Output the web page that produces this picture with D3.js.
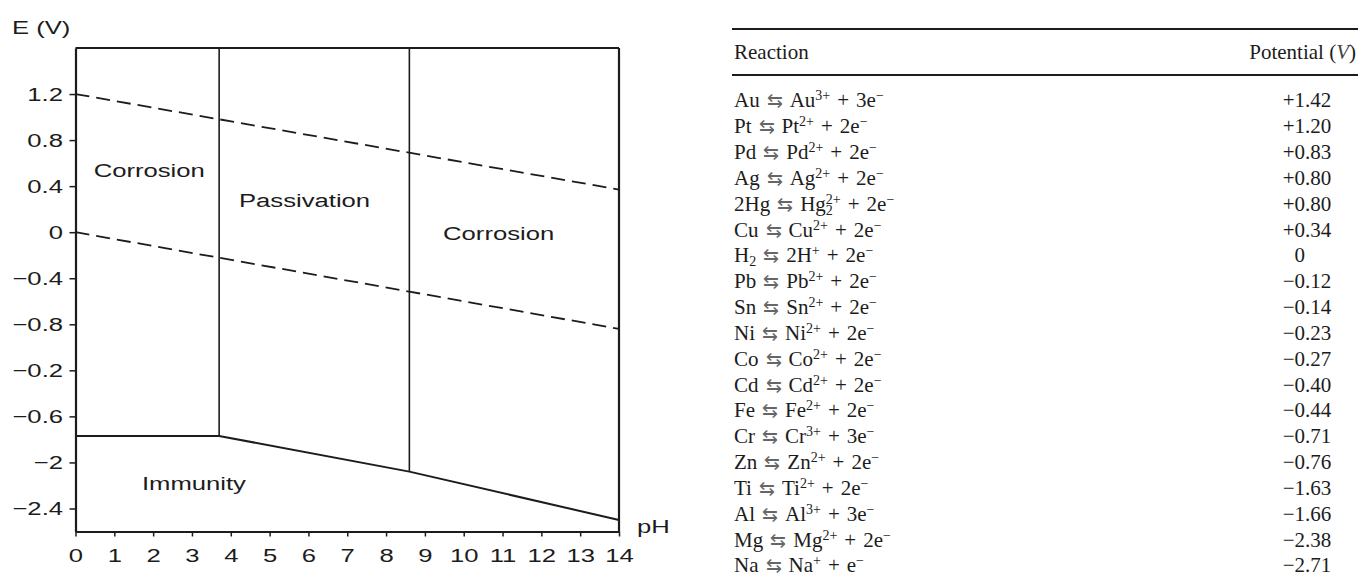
<!DOCTYPE html>
<html>
<head>
<meta charset="utf-8">
<script src="https://cdn.jsdelivr.net/npm/d3@7"></script>
<style>
  body { margin: 0; background: #fff; }
</style>
</head>
<body>
<div id="chart"></div>
<script>
var svgWidth = 1369;
var svgHeight = 580;

// ---- diagram data (pH / potential) ----
var phTicks = [0, 1, 2, 3, 4, 5, 6, 7, 8, 9, 10, 11, 12, 13, 14];
var eTickValues = [1.2, 0.8, 0.4, 0, -0.4, -0.8, -1.2, -1.6, -2.0, -2.4];
var eTickLabels = ["1.2", "0.8", "0.4", "0", "\u22120.4", "\u22120.8", "\u22120.2", "\u22120.6", "\u22122", "\u22122.4"];
var upperWater = [[0, 1.2], [14, 0.37]];
var lowerWater = [[0, 0.0], [14, -0.84]];
var immunityEdge = [[0, -1.77], [3.7, -1.77], [8.6, -2.08], [14, -2.5]];
var passiveBounds = [3.7, 8.6];
var regionNames = ["Corrosion", "Passivation", "Corrosion", "Immunity"];
var regionPh = [1.9, 5.9, 10.9, 3.05];
var regionE = [0.54, 0.28, -0.01, -2.18];

// ---- table data ----
var leftBase = ["Au", "Pt", "Pd", "Ag", "2Hg", "Cu", "H", "Pb", "Sn", "Ni", "Co", "Cd", "Fe", "Cr", "Zn", "Ti", "Al", "Mg", "Na"];
var leftSub = ["", "", "", "", "", "", "2", "", "", "", "", "", "", "", "", "", "", "", ""];
var ionBase = ["Au", "Pt", "Pd", "Ag", "Hg", "Cu", "2H", "Pb", "Sn", "Ni", "Co", "Cd", "Fe", "Cr", "Zn", "Ti", "Al", "Mg", "Na"];
var ionSub = ["", "", "", "", "2", "", "", "", "", "", "", "", "", "", "", "", "", "", ""];
var ionCharge = ["3+", "2+", "2+", "2+", "2+", "2+", "+", "2+", "2+", "2+", "2+", "2+", "2+", "3+", "2+", "2+", "3+", "2+", "+"];
var electrons = ["3e", "2e", "2e", "2e", "2e", "2e", "2e", "2e", "2e", "2e", "2e", "2e", "2e", "3e", "2e", "2e", "3e", "2e", "e"];
var potentials = [1.42, 1.20, 0.83, 0.80, 0.80, 0.34, 0, -0.12, -0.14, -0.23, -0.27, -0.40, -0.44, -0.71, -0.76, -1.63, -1.66, -2.38, -2.71];

var ink = "#1c1c1c";
var sansFont = "'Liberation Sans', Arial, Helvetica, sans-serif";
var serifFont = "'Liberation Serif', 'Times New Roman', serif";
var sx = 1.35; // the figure's lettering is stretched sideways

var svg = d3.select("#chart")
  .append("svg")
  .attr("width", svgWidth)
  .attr("height", svgHeight);

// ================= left: Pourbaix style diagram =================
var x = d3.scaleLinear().domain([0, 14]).range([75.5, 619]);
var y = d3.scaleLinear().domain([-2.6, 1.6]).range([531.5, 48]);

var chartGroup = svg.append("g")
  .attr("font-family", sansFont)
  .attr("font-size", 19);

var bottomAxis = d3.axisBottom(x)
  .tickValues(phTicks)
  .tickFormat(d3.format("d"))
  .tickSizeInner(5)
  .tickSizeOuter(0)
  .tickPadding(12);

var leftAxis = d3.axisLeft(y)
  .tickValues(eTickValues)
  .tickFormat(function(d, i) { return eTickLabels[i]; })
  .tickSizeInner(6)
  .tickSizeOuter(0)
  .tickPadding(3);

var xAxis = chartGroup.append("g")
  .attr("transform", `translate(0, ${y(-2.6)})`)
  .call(bottomAxis);

var yAxis = chartGroup.append("g")
  .attr("transform", `translate(${x(0)}, 0)`)
  .call(leftAxis);

[xAxis, yAxis].forEach(function(ax) {
  ax.attr("font-family", sansFont).attr("font-size", 19);
  ax.select(".domain").attr("stroke", ink).attr("stroke-width", 2.2);
  ax.selectAll(".tick line").attr("stroke", ink).attr("stroke-width", 1.5);
  ax.selectAll(".tick text").attr("fill", ink).attr("transform", `scale(${sx},1)`);
});
yAxis.selectAll(".tick text").attr("x", -12.5 / sx);

// top and right frame
chartGroup.append("line")
  .attr("x1", x(0)).attr("x2", x(14))
  .attr("y1", y(1.6)).attr("y2", y(1.6))
  .attr("stroke", ink).attr("stroke-width", 2.2);
chartGroup.append("line")
  .attr("x1", x(14)).attr("x2", x(14))
  .attr("y1", y(1.6)).attr("y2", y(-2.6))
  .attr("stroke", ink).attr("stroke-width", 2.2);

var line = d3.line()
  .x(d => x(d[0]))
  .y(d => y(d[1]));

// water stability lines (dashed)
[upperWater, lowerWater].forEach(function(pts) {
  chartGroup.append("path")
    .datum(pts)
    .attr("d", line)
    .attr("fill", "none")
    .attr("stroke", ink)
    .attr("stroke-width", 1.8)
    .attr("stroke-dasharray", "14,7");
});

// immunity boundary
chartGroup.append("path")
  .datum(immunityEdge)
  .attr("d", line)
  .attr("fill", "none")
  .attr("stroke", ink)
  .attr("stroke-width", 2);

// where the boundary sits at a given pH
function edgeAt(ph) {
  for (var i = 1; i < immunityEdge.length; i++) {
    var a = immunityEdge[i - 1], b = immunityEdge[i];
    if (ph <= b[0]) return a[1] + (b[1] - a[1]) * (ph - a[0]) / (b[0] - a[0]);
  }
  return immunityEdge[immunityEdge.length - 1][1];
}

chartGroup.selectAll(".bound")
  .data(passiveBounds)
  .enter()
  .append("line")
  .attr("class", "bound")
  .attr("x1", d => x(d)).attr("x2", d => x(d))
  .attr("y1", y(1.6))
  .attr("y2", d => y(edgeAt(d)))
  .attr("stroke", ink)
  .attr("stroke-width", 1.6);

// region names
chartGroup.selectAll(".region")
  .data(regionNames)
  .enter()
  .append("text")
  .attr("class", "region")
  .attr("transform", (d, i) => `translate(${x(regionPh[i])}, ${y(regionE[i])}) scale(${sx},1)`)
  .attr("text-anchor", "middle")
  .attr("dy", "0.35em")
  .attr("fill", ink)
  .text(d => d);

// axis titles
chartGroup.append("text")
  .attr("transform", `translate(12, 34) scale(${sx},1)`)
  .attr("fill", ink)
  .text("E (V)");

chartGroup.append("text")
  .attr("transform", `translate(637, 533) scale(${sx},1)`)
  .attr("fill", ink)
  .text("pH");

// ================= right: table of potentials =================
var table = svg.append("g")
  .attr("font-family", serifFont)
  .attr("font-size", 21)
  .attr("fill", ink);

var tableLeft = 732, tableRight = 1358, decimalX = 1305;
var gap = "\u2004"; // a little wider than a normal space, like the typeset table

[29, 75].forEach(function(yy) {
  table.append("line")
    .attr("x1", tableLeft).attr("x2", tableRight)
    .attr("y1", yy).attr("y2", yy)
    .attr("stroke", ink).attr("stroke-width", 2);
});

table.append("text")
  .attr("x", 734).attr("y", 52).attr("dy", "0.35em")
  .text("Reaction");

var potHead = table.append("text")
  .attr("x", 1356).attr("y", 52).attr("dy", "0.35em")
  .attr("text-anchor", "end");
potHead.append("tspan").text("Potential (");
potHead.append("tspan").attr("font-style", "italic").attr("fill", "#444").text("V");
potHead.append("tspan").text(")");

var rowY = d3.scalePoint()
  .domain(d3.range(leftBase.length))
  .range([100, 565]);

var rows = table.selectAll(".row")
  .data(leftBase)
  .enter()
  .append("g")
  .attr("class", "row")
  .attr("transform", (d, i) => `translate(0, ${rowY(i)})`);

function sup(t, s, dx) {
  var ts = t.append("tspan").attr("baseline-shift", 7).attr("font-size", 14).text(s);
  if (dx) ts.attr("dx", dx);
}
function sub(t, s) {
  t.append("tspan").attr("baseline-shift", -4).attr("font-size", 14).text(s);
}

rows.append("text")
  .attr("x", 734)
  .attr("dy", "0.35em")
  .each(function(d, i) {
    var t = d3.select(this);
    t.append("tspan").text(leftBase[i]);
    if (leftSub[i]) sub(t, leftSub[i]);
    t.append("tspan").text(gap);
    t.append("tspan").attr("fill", "#666").attr("font-size", 19).text("\u21C6");
    t.append("tspan").text(gap + ionBase[i]);
    if (ionSub[i]) {
      sub(t, ionSub[i]);
      sup(t, ionCharge[i], -7);
    } else {
      sup(t, ionCharge[i]);
    }
    t.append("tspan").text(gap + "+" + gap + electrons[i]);
    sup(t, "\u2212");
  });

var fmt = d3.format("+.2f");
rows.append("text")
  .attr("x", decimalX)
  .attr("dy", "0.35em")
  .attr("text-anchor", "end")
  .text(function(d, i) {
    var v = potentials[i];
    return v === 0 ? "0" : fmt(v).split(".")[0];
  });
rows.append("text")
  .attr("x", decimalX)
  .attr("dy", "0.35em")
  .text(function(d, i) {
    var v = potentials[i];
    return v === 0 ? "" : "." + fmt(v).split(".")[1];
  });
</script>
</body>
</html>
